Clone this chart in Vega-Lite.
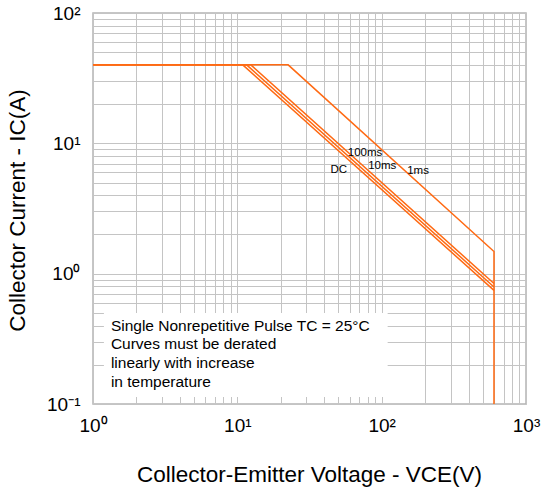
{
  "$schema": "https://vega.github.io/schema/vega-lite/v6.json",
  "autosize": "none",
  "width": 433,
  "height": 391,
  "padding": {"left": 93, "top": 13, "right": 17, "bottom": 91},
  "background": "white",
  "config": {
    "font": "Liberation Sans",
    "view": {"stroke": "#b4b4b4", "strokeWidth": 1.5}
  },
  "datasets": {
    "lines": [
      {"series": "DC", "i": 0, "x": 1, "y": 40},
      {"series": "DC", "i": 1, "x": 10.9, "y": 40},
      {"series": "DC", "i": 2, "x": 600, "y": 0.745},
      {"series": "100ms", "i": 0, "x": 1, "y": 40},
      {"series": "100ms", "i": 1, "x": 11.6, "y": 40},
      {"series": "100ms", "i": 2, "x": 600, "y": 0.79},
      {"series": "10ms", "i": 0, "x": 1, "y": 40},
      {"series": "10ms", "i": 1, "x": 12.4, "y": 40},
      {"series": "10ms", "i": 2, "x": 600, "y": 0.84},
      {"series": "1ms", "i": 0, "x": 1, "y": 40},
      {"series": "1ms", "i": 1, "x": 22.5, "y": 40},
      {"series": "1ms", "i": 2, "x": 600, "y": 1.48},
      {"series": "1ms", "i": 3, "x": 600, "y": 0.1}
    ],
    "labels": [
      {"text": "100ms", "x": 76.7, "y": 8.5},
      {"text": "10ms", "x": 101, "y": 6.75},
      {"text": "DC", "x": 50.4, "y": 6.24},
      {"text": "1ms", "x": 178.7, "y": 6.12}
    ],
    "notes": [
      {"text": "Single Nonrepetitive Pulse TC = 25°C", "x": 1.33, "y": 0.365},
      {"text": "Curves must be derated", "x": 1.33, "y": 0.2635},
      {"text": "linearly with increase", "x": 1.33, "y": 0.1886},
      {"text": "in temperature", "x": 1.33, "y": 0.1349}
    ],
    "box": [
      {"x": 1.19, "x2": 110, "y": 0.113, "y2": 0.499}
    ]
  },
  "encoding": {
    "x": {
      "field": "x",
      "type": "quantitative",
      "scale": {"type": "log", "domain": [1, 1000], "nice": false},
      "axis": {
        "values": [1, 2, 3, 4, 5, 6, 7, 8, 9, 10, 20, 30, 40, 50, 60, 70, 80, 90, 100, 200, 300, 400, 500, 600, 700, 800, 900, 1000],
        "labelExpr": "datum.value == 1 ? '10⁰' : datum.value == 10 ? '10¹' : datum.value == 100 ? '10²' : datum.value == 1000 ? '10³' : ''",
        "labelOverlap": false,
        "labelFontSize": 19,
        "labelColor": "black",
        "labelPadding": 12,
        "labelFlush": false,
        "ticks": false,
        "domain": false,
        "grid": true,
        "gridColor": "#c4c4c4",
        "gridWidth": 1,
        "title": "Collector-Emitter Voltage - VCE(V)",
        "titleFontSize": 22.5,
        "titleFontWeight": "normal",
        "titleColor": "black",
        "titleX": 216,
        "titleY": 77,
        "titleAlign": "center",
        "titleBaseline": "alphabetic"
      }
    },
    "y": {
      "field": "y",
      "type": "quantitative",
      "scale": {"type": "log", "domain": [0.1, 100], "nice": false},
      "axis": {
        "values": [0.1, 0.2, 0.3, 0.4, 0.5, 0.6, 0.7, 0.8, 0.9, 1, 2, 3, 4, 5, 6, 7, 8, 9, 10, 20, 30, 40, 50, 60, 70, 80, 90, 100],
        "labelExpr": "datum.value == 0.1 ? '10⁻¹' : datum.value == 1 ? '10⁰' : datum.value == 10 ? '10¹' : datum.value == 100 ? '10²' : ''",
        "labelOverlap": false,
        "labelFontSize": 19,
        "labelColor": "black",
        "labelPadding": 13,
        "labelFlush": false,
        "ticks": false,
        "domain": false,
        "grid": true,
        "gridColor": "#c4c4c4",
        "gridWidth": 1,
        "title": "Collector Current - IC(A)",
        "titleFontSize": 22.5,
        "titleFontWeight": "normal",
        "titleColor": "black",
        "titleAngle": -90,
        "titleX": -76,
        "titleY": 197,
        "titleAlign": "center",
        "titleBaseline": "middle"
      }
    }
  },
  "layer": [
    {
      "data": {"name": "box"},
      "mark": {"type": "rect", "fill": "white", "stroke": null},
      "encoding": {
        "x2": {"field": "x2"},
        "y2": {"field": "y2"}
      }
    },
    {
      "data": {"name": "lines"},
      "mark": {"type": "line", "color": "#ff6a13", "strokeWidth": 1.5, "clip": true},
      "encoding": {
        "detail": {"field": "series"},
        "order": {"field": "i"}
      }
    },
    {
      "data": {"name": "labels"},
      "mark": {"type": "text", "fontSize": 11.5, "color": "black", "align": "center", "baseline": "middle"},
      "encoding": {
        "text": {"field": "text"}
      }
    },
    {
      "data": {"name": "notes"},
      "mark": {"type": "text", "fontSize": 15.5, "color": "black", "align": "left", "baseline": "alphabetic"},
      "encoding": {
        "text": {"field": "text"}
      }
    }
  ]
}
